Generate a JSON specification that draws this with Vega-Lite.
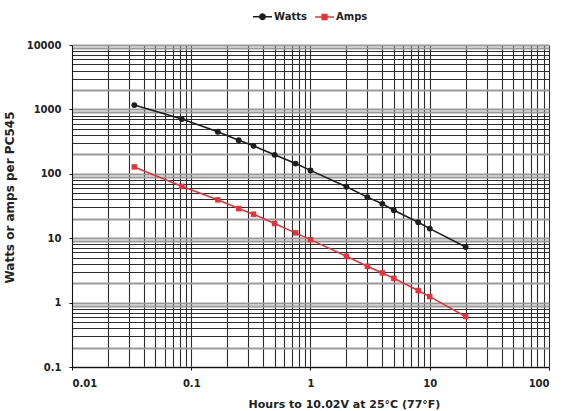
{
  "$schema": "https://vega.github.io/schema/vega-lite/v6.json",
  "width": 477,
  "height": 322,
  "autosize": "none",
  "padding": {"left": 72, "top": 45, "right": 13, "bottom": 44},
  "background": "white",
  "config": {
    "view": {"stroke": null},
    "font": "DejaVu Sans",
    "axis": {
      "labelFont": "DejaVu Sans", "labelFontWeight": "bold", "labelFontSize": 10, "labelColor": "#222",
      "titleFont": "DejaVu Sans", "titleFontWeight": "bold", "titleFontSize": 11, "titleColor": "#222",
      "domainColor": "#111", "domainWidth": 1, "tickColor": "#111", "tickSize": 3, "tickWidth": 1,
      "labelOverlap": false, "labelPadding": 6
    }
  },
  "data": {"values": [
    {"hours": 0.0333, "value": 1168, "series": "Watts"},
    {"hours": 0.0833, "value": 708, "series": "Watts"},
    {"hours": 0.167, "value": 450, "series": "Watts"},
    {"hours": 0.25, "value": 333, "series": "Watts"},
    {"hours": 0.333, "value": 272, "series": "Watts"},
    {"hours": 0.5, "value": 197, "series": "Watts"},
    {"hours": 0.75, "value": 144, "series": "Watts"},
    {"hours": 1, "value": 113, "series": "Watts"},
    {"hours": 2, "value": 63, "series": "Watts"},
    {"hours": 3, "value": 43.4, "series": "Watts"},
    {"hours": 4, "value": 34.2, "series": "Watts"},
    {"hours": 5, "value": 27.2, "series": "Watts"},
    {"hours": 8, "value": 17.7, "series": "Watts"},
    {"hours": 10, "value": 14.1, "series": "Watts"},
    {"hours": 20, "value": 7.3, "series": "Watts"},
    {"hours": 0.0333, "value": 128, "series": "Amps"},
    {"hours": 0.0833, "value": 64, "series": "Amps"},
    {"hours": 0.167, "value": 39.4, "series": "Amps"},
    {"hours": 0.25, "value": 28.9, "series": "Amps"},
    {"hours": 0.333, "value": 23.6, "series": "Amps"},
    {"hours": 0.5, "value": 16.9, "series": "Amps"},
    {"hours": 0.75, "value": 12.1, "series": "Amps"},
    {"hours": 1, "value": 9.5, "series": "Amps"},
    {"hours": 2, "value": 5.25, "series": "Amps"},
    {"hours": 3, "value": 3.67, "series": "Amps"},
    {"hours": 4, "value": 2.89, "series": "Amps"},
    {"hours": 5, "value": 2.39, "series": "Amps"},
    {"hours": 8, "value": 1.54, "series": "Amps"},
    {"hours": 10, "value": 1.24, "series": "Amps"},
    {"hours": 20, "value": 0.61, "series": "Amps"}
  ]},
  "encoding": {
    "x": {
      "field": "hours", "type": "quantitative",
      "scale": {"type": "log", "domain": [0.01, 100], "nice": false},
      "axis": {
        "title": "Hours to 10.02V at 25°C (77°F)",
        "titlePadding": 10,
        "titleX": 272,
        "labelPadding": 8,
        "values": [0.01,0.02,0.03,0.04,0.05,0.06,0.07,0.08,0.09,0.1,0.2,0.3,0.4,0.5,0.6,0.7,0.8,0.9,1,2,3,4,5,6,7,8,9,10,20,30,40,50,60,70,80,90,100],
        "labelExpr": "round(datum.value / pow(10, floor(log(datum.value)/LN10 + 1e-9))) == 1 ? format(datum.value, '~g') : ''",
        "tickOpacity": {"condition": {"test": "round(datum.value / pow(10, floor(log(datum.value)/LN10 + 1e-9))) == 1", "value": 1}, "value": 0},
        "grid": true,
        "gridColor": "#2a2a2a",
        "gridWidth": 1.1,
        "gridOpacity": 1
      }
    },
    "y": {
      "field": "value", "type": "quantitative",
      "scale": {"type": "log", "domain": [0.1, 10000], "nice": false},
      "axis": {
        "title": "Watts or amps per PC545",
        "titleFontSize": 12,
        "titlePadding": 10,
        "titleY": 152,
        "labelPadding": 8,
        "values": [0.1,0.2,0.3,0.4,0.5,0.6,0.7,0.8,0.9,1,2,3,4,5,6,7,8,9,10,20,30,40,50,60,70,80,90,100,200,300,400,500,600,700,800,900,1000,2000,3000,4000,5000,6000,7000,8000,9000,10000],
        "labelExpr": "round(datum.value / pow(10, floor(log(datum.value)/LN10 + 1e-9))) == 1 ? format(datum.value, '~g') : ''",
        "tickOpacity": {"condition": {"test": "round(datum.value / pow(10, floor(log(datum.value)/LN10 + 1e-9))) == 1", "value": 1}, "value": 0},
        "grid": true,
        "gridColor": {"condition": {"test": "indexof([1,2,9], round(datum.value / pow(10, floor(log(datum.value)/LN10 + 1e-9)))) >= 0", "value": "#9a9a9a"}, "value": "#2e2e2e"},
        "gridWidth": {"condition": {"test": "indexof([1,2,9], round(datum.value / pow(10, floor(log(datum.value)/LN10 + 1e-9)))) >= 0", "value": 1.8}, "value": 1},
        "gridOpacity": 1
      }
    },
    "color": {
      "field": "series", "type": "nominal",
      "scale": {"domain": ["Watts", "Amps"], "range": ["#1e1e1e", "#e5333b"]},
      "legend": {
        "title": null,
        "orient": "none",
        "legendX": 180,
        "legendY": -39,
        "direction": "horizontal",
        "labelFont": "DejaVu Sans", "labelFontWeight": "bold", "labelFontSize": 10, "labelColor": "#222",
        "labelOffset": 1,
        "columnPadding": 4,
        "symbolSize": 361,
        "symbolStrokeWidth": 1.6,
        "encode": {
          "symbols": {
            "update": {
              "shape": {"signal": "datum.value === 'Watts' ? 'M-1,0H1M0.28,0A0.28,0.28,0,1,1,-0.28,0A0.28,0.28,0,1,1,0.28,0Z' : 'M-1,0H1M-0.25,-0.25H0.25V0.25H-0.25Z'"},
              "fill": {"signal": "datum.value === 'Watts' ? '#1e1e1e' : '#e5333b'"},
              "stroke": {"signal": "datum.value === 'Watts' ? '#1e1e1e' : '#e5333b'"},
              "strokeWidth": {"value": 1.6},
              "size": {"value": 361},
              "opacity": {"value": 1},
              "fillOpacity": {"value": 1}
            }
          }
        }
      }
    }
  },
  "layer": [
    {
      "mark": {"type": "line", "strokeWidth": 1.6, "clip": true}
    },
    {
      "transform": [{"filter": "datum.series === 'Watts'"}],
      "mark": {"type": "point", "shape": "circle", "filled": true, "opacity": 1, "size": 34}
    },
    {
      "transform": [{"filter": "datum.series === 'Amps'"}],
      "mark": {"type": "point", "shape": "square", "filled": true, "opacity": 1, "size": 30}
    }
  ]
}
